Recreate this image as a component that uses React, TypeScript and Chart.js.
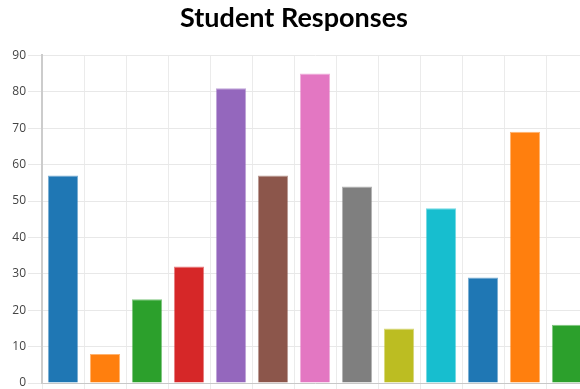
import React, { useEffect, useRef } from "react";
import { Chart, registerables } from "chart.js";

Chart.register(...registerables);

const categories = ["A", "B", "C", "D", "E", "F", "G", "H", "I", "J", "K", "L", "M"];
const responses = [57, 8, 23, 32, 81, 57, 85, 54, 15, 48, 29, 69, 16];
const barColors = [
  "#1f77b4", "#ff7f0e", "#2ca02c", "#d62728", "#9467bd", "#8c564b", "#e377c2",
  "#7f7f7f", "#bcbd22", "#17becf", "#1f77b4", "#ff7f0e", "#2ca02c",
];
const yTicks = [0, 10, 20, 30, 40, 50, 60, 70, 80, 90];

export default function App() {
  const ref = useRef<HTMLCanvasElement | null>(null);
  useEffect(() => {
    if (!ref.current) return;
    const chart = new Chart(ref.current, {
      type: "bar",
      data: {
        labels: categories,
        datasets: [
          {
            label: "Responses",
            data: responses,
            backgroundColor: barColors,
            borderColor: barColors.map((c) => c + "99"),
            borderWidth: 1,
          },
        ],
      },
      options: {
        animation: false,
        responsive: true,
        maintainAspectRatio: false,
        layout: { padding: { left: 0, right: 32, top: 2, bottom: 0 } },
        plugins: {
          legend: { display: false },
          tooltip: { enabled: false },
          title: {
            display: true,
            text: "Student Responses",
            color: "#000",
            font: { family: "Lato", size: 27, weight: "bold" },
            padding: { top: 0, bottom: 21 },
          },
        },
        scales: {
          x: {
            grid: { color: "#ebebeb", drawTicks: true, tickLength: 8, offset: true },
            border: { color: "#c8c8c8", width: 1 },
            ticks: { display: false },
            afterFit: (s: any) => {
              s.height = 17;
            },
          },
          y: {
            min: 0,
            max: 90,
            afterBuildTicks: (s: any) => {
              s.ticks = yTicks.map((v) => ({ value: v }));
            },
            grid: { color: "#e8e8e8", tickLength: 14 },
            border: { color: "#cccccc", width: 2 },
            ticks: {
              padding: 2,
              color: "#444",
              font: { family: "Open Sans", size: 12 },
            },
            afterFit: (s: any) => {
              s.width = 42;
            },
          },
        },
      },
    });
    return () => chart.destroy();
  }, []);
  return (
    <div style={{ position: "fixed", left: 0, top: 0, width: 620, height: 400 }}>
      <canvas ref={ref} />
    </div>
  );
}
